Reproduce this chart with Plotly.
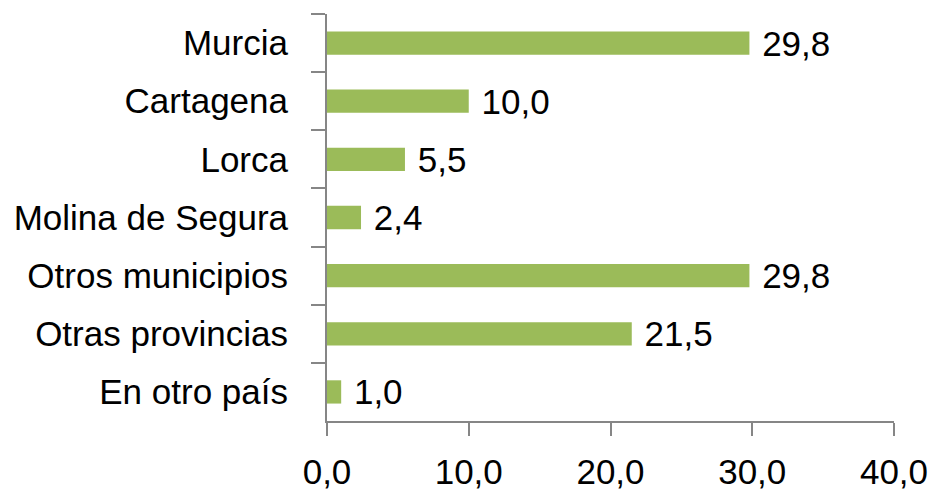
import plotly.graph_objects as go

categories = ["Murcia", "Cartagena", "Lorca", "Molina de Segura",
              "Otros municipios", "Otras provincias", "En otro país"]
values = [29.8, 10.0, 5.5, 2.4, 29.8, 21.5, 1.0]
x_ticks = [0, 10, 20, 30, 40]

FONT = "Liberation Sans Narrow, Arial Narrow, Liberation Sans, Arial, sans-serif"
AXIS = "#868686"
FS = 35

fig = go.Figure(go.Bar(
    x=values, y=categories, orientation="h",
    marker=dict(color="#9BBB59", line=dict(width=0)),
    texttemplate="\u00a0%{x:.1f}", textposition="outside",
    constraintext="none",
    textfont=dict(family=FONT, size=FS, color="#000000"),
    cliponaxis=False,
))

fig.update_layout(
    width=931, height=493,
    margin=dict(l=327, r=37, t=14, b=72),
    paper_bgcolor="white", plot_bgcolor="white",
    separators=",.",
    bargap=0.6,
    showlegend=False,
    font=dict(family=FONT, size=FS, color="#000000"),
)
fig.update_xaxes(
    range=[0, 40], tickvals=x_ticks, tickformat=".1f",
    showgrid=False, zeroline=False, automargin=False,
    showline=True, linecolor=AXIS, linewidth=2,
    ticks="outside", ticklen=13, tickwidth=2, tickcolor=AXIS,
    ticklabelstandoff=6,
    tickfont=dict(family=FONT, size=FS, color="#000000"),
)
fig.update_yaxes(
    autorange="reversed", showgrid=False, automargin=False,
    showline=True, linecolor=AXIS, linewidth=2,
    ticks="outside", ticklen=14, tickwidth=2, tickcolor=AXIS,
    tickson="boundaries", ticklabelstandoff=30,
    tickfont=dict(family=FONT, size=FS, color="#000000"),
)

fig.write_html("out.html", config={"displayModeBar": False},
               post_script="document.body.style.margin='0';document.body.style.padding='0';")
